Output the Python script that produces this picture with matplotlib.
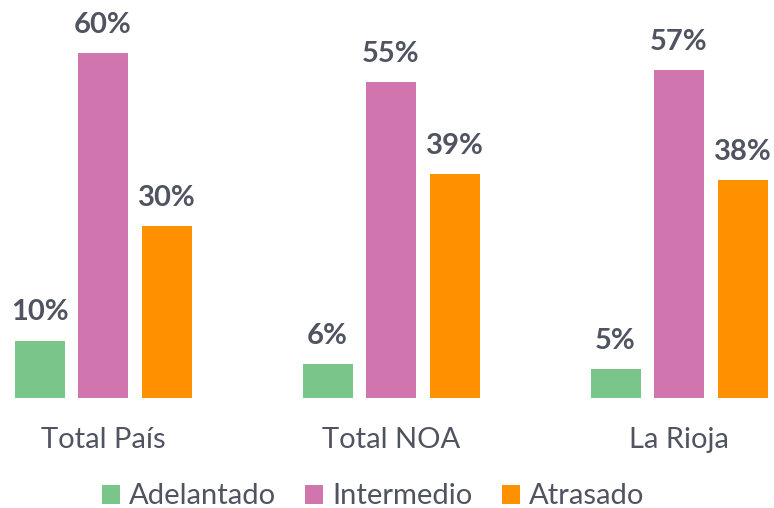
import matplotlib
matplotlib.use("Agg")
import matplotlib.pyplot as plt
import numpy as np

categories = ["Total País", "Total NOA", "La Rioja"]
series = ["Adelantado", "Intermedio", "Atrasado"]
adelantado = [10, 6, 5]
intermedio = [60, 55, 57]
atrasado = [30, 39, 38]
colors = ["#7AC68A", "#D175AF", "#FF9000"]
text_color = "#505360"

plt.rcParams['font.family'] = ['Lato', 'DejaVu Sans']

W, H = 774, 508
fig = plt.figure(figsize=(W / 100, H / 100), dpi=100)
ax = fig.add_axes([0, (H - 398) / H, 1, 398 / H])

x = np.arange(len(categories))
offset = 63.5 / 288
width = 50 / 288
for i, (vals, name) in enumerate(zip([adelantado, intermedio, atrasado], series)):
    pos = x + (i - 1) * offset
    ax.bar(pos, vals, width=width, color=colors[i], label=name)
    for xp, v in zip(pos, vals):
        ax.annotate(f"{v}%", (xp, v), xytext=(0, 20), textcoords="offset pixels",
                    ha="center", va="baseline", fontsize=21, fontweight="bold",
                    color=text_color)

ax.set_xlim(-103 / 288, (W - 103) / 288)
ax.set_ylim(0, 398 / 5.75)
ax.axis("off")

for xi, c in zip(x, categories):
    ax.annotate(c, (xi, 0), xytext=(0, -50), textcoords="offset pixels",
                ha="center", va="baseline", fontsize=21, color=text_color)

leg = fig.legend(loc="center", bbox_to_anchor=(0.482, (H - 496.5) / H), ncol=3,
                 frameon=False, fontsize=21, handlelength=0.62, handleheight=0.62,
                 handletextpad=0.3, columnspacing=1.0, borderpad=0, borderaxespad=0)
for t in leg.get_texts():
    t.set_color(text_color)

fig.savefig("out.png", dpi=100)
